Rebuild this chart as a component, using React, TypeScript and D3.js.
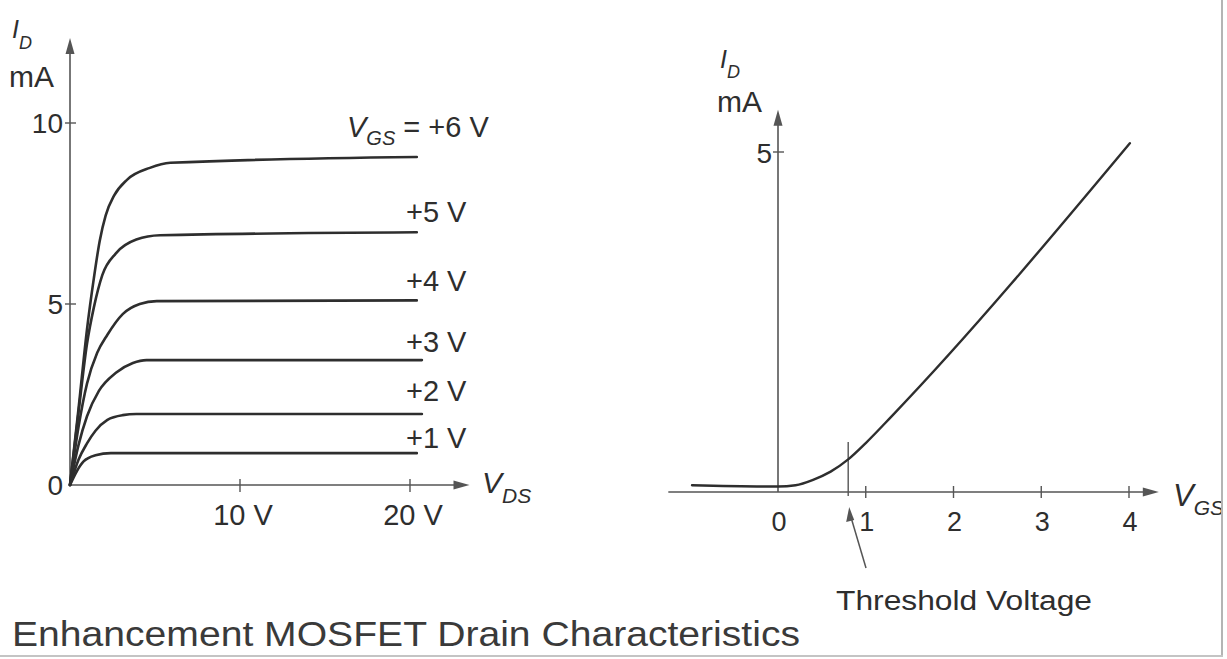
import React from 'react';
import * as d3 from 'd3';

// left panel: drain curves, I_D (mA) vs V_DS (V), one per gate voltage
const gateLabels = ['+6 V', '+5 V', '+4 V', '+3 V', '+2 V', '+1 V'];
const curve6: [number, number][] = [[0, 0], [0.5, 2.1], [1.0, 4.3], [1.4, 5.7], [1.75, 6.75], [2.1, 7.45], [2.6, 8.0], [3.35, 8.43], [4.7, 8.76], [5.9, 8.9], [20.4, 9.06]];
const curve5: [number, number][] = [[0, 0], [0.5, 2.0], [1.0, 3.9], [1.4, 4.9], [1.9, 5.8], [2.7, 6.4], [3.9, 6.78], [5.3, 6.9], [20.4, 6.98]];
const curve4: [number, number][] = [[0, 0], [0.5, 1.6], [1.0, 2.8], [1.6, 3.65], [2.2, 4.15], [3.1, 4.72], [4.1, 5.0], [5.1, 5.08], [20.4, 5.1]];
const curve3: [number, number][] = [[0, 0], [0.5, 1.1], [1.0, 1.9], [1.7, 2.6], [2.7, 3.1], [3.7, 3.37], [4.5, 3.45], [20.7, 3.45]];
const curve2: [number, number][] = [[0, 0], [0.5, 0.7], [1.0, 1.15], [1.5, 1.5], [2.2, 1.8], [3.1, 1.93], [3.9, 1.96], [20.7, 1.96]];
const curve1: [number, number][] = [[0, 0], [0.4, 0.38], [0.8, 0.65], [1.5, 0.82], [2.4, 0.88], [20.4, 0.88]];
const drainCurves = [curve6, curve5, curve4, curve3, curve2, curve1];
const drainYTicks = [0, 5, 10];
const drainXTicks = [10, 20];
const drainXTickLabels = ['10 V', '20 V'];

// right panel: transfer curve, I_D (mA) vs V_GS (V)
const transfer: [number, number][] = [[-0.98, 0.1], [0, 0.08], [0.2, 0.1], [0.4, 0.18], [0.6, 0.3], [0.8, 0.48], [1.0, 0.72], [1.3, 1.12], [4.01, 5.13]];
const transferXTicks = [0, 1, 2, 3, 4];
const transferYTicks = [5];
const thresholdV = 0.8;

const ink = '#2e2e2e';
const axisInk = '#555';
const font = '"Liberation Sans", Arial, Helvetica, sans-serif';

function arrow(x: number, y: number, dir: 'up' | 'right') {
  const len = 16, hw = 4.5;
  if (dir === 'up') return `M${x},${y} L${x - hw},${y + len} L${x + hw},${y + len} Z`;
  return `M${x},${y} L${x - len},${y - hw} L${x - len},${y + hw} Z`;
}

export default function App() {
  const W = 1227, H = 659;

  const xL = d3.scaleLinear().domain([0, 20]).range([70, 410]);
  const yL = d3.scaleLinear().domain([0, 10]).range([485, 123]);
  const xR = d3.scaleLinear().domain([0, 4]).range([778, 1129]);
  const yR = d3.scaleLinear().domain([0, 5]).range([492, 152]);

  const lineL = d3.line<[number, number]>().x(d => xL(d[0])).y(d => yL(d[1])).curve(d3.curveMonotoneX);
  const lineR = d3.line<[number, number]>().x(d => xR(d[0])).y(d => yR(d[1])).curve(d3.curveMonotoneX);

  const lAxisTop = yL(12.35), lAxisRight = xL(23.5);
  const rAxisTop = yR(5.62), rAxisRight = xR(4.34), rAxisLeft = xR(-1.25);

  const labelShift = [-20, -10, -9, -8, -13, -5];

  return (
    <svg width={W} height={H} style={{ position: 'absolute', left: 0, top: 0, background: '#fff' }}
      fontFamily={font}>
      <defs>
        <clipPath id="page"><rect x={0} y={0} width={1221} height={655} /></clipPath>
      </defs>
      <rect width={W} height={H} fill="#fff" />
      <g clipPath="url(#page)">
        {/* ---------- left panel ---------- */}
        <line x1={xL(0)} x2={xL(0)} y1={yL(0)} y2={lAxisTop + 14} stroke={axisInk} strokeWidth={1.6} />
        <path d={arrow(xL(0), lAxisTop, 'up')} fill={axisInk} />
        <line x1={xL(0)} x2={lAxisRight - 14} y1={yL(0)} y2={yL(0)} stroke={axisInk} strokeWidth={1.6} />
        <path d={arrow(lAxisRight, yL(0), 'right')} fill={axisInk} />
        {drainYTicks.filter(t => t > 0).map(t => (
          <line key={t} x1={xL(0) - 5} x2={xL(0) + 6} y1={yL(t)} y2={yL(t)} stroke={axisInk} strokeWidth={1.4} />
        ))}
        {drainXTicks.map(t => (
          <line key={t} x1={xL(t)} x2={xL(t)} y1={yL(0) - 6} y2={yL(0) + 7} stroke={axisInk} strokeWidth={1.4} />
        ))}
        {drainYTicks.map(t => (
          <text key={t} x={xL(0) - 7} y={yL(t) + 10} fontSize={28} fill={ink} textAnchor="end">{t}</text>
        ))}
        {drainXTicks.map((t, i) => (
          <text key={t} x={xL(t) + 3} y={yL(0) + 40} fontSize={29} fill={ink} textAnchor="middle">{drainXTickLabels[i]}</text>
        ))}
        {drainCurves.map((c, i) => (
          <path key={i} d={lineL(c) ?? ''} fill="none" stroke={ink} strokeWidth={2.6} strokeLinecap="round" />
        ))}
        {drainCurves.map((c, i) => {
          const end = c[c.length - 1];
          const y = yL(end[1]) + labelShift[i];
          if (i === 0) {
            return (
              <text key={i} x={347} y={y} fontSize={29} fill={ink}>
                <tspan fontStyle="italic">V</tspan>
                <tspan fontStyle="italic" fontSize={20} dy={8}>GS</tspan>
                <tspan dy={-8}> = {gateLabels[i]}</tspan>
              </text>
            );
          }
          return <text key={i} x={406} y={y} fontSize={29} fill={ink}>{gateLabels[i]}</text>;
        })}
        <text x={12} y={38} fontSize={25} fill={ink} fontStyle="italic">I
          <tspan fontSize={18} dy={11}>D</tspan>
        </text>
        <text x={9} y={87} fontSize={30} fill={ink}>mA</text>
        <text x={482} y={493} fontSize={30} fill={ink} fontStyle="italic">V
          <tspan fontSize={21} dy={10}>DS</tspan>
        </text>

        {/* ---------- right panel ---------- */}
        <line x1={xR(0)} x2={xR(0)} y1={yR(0)} y2={rAxisTop + 14} stroke={axisInk} strokeWidth={1.6} />
        <path d={arrow(xR(0), rAxisTop, 'up')} fill={axisInk} />
        <line x1={rAxisLeft} x2={rAxisRight - 14} y1={yR(0)} y2={yR(0)} stroke={axisInk} strokeWidth={1.6} />
        <path d={arrow(rAxisRight, yR(0), 'right')} fill={axisInk} />
        {transferYTicks.map(t => (
          <line key={t} x1={xR(0) - 5} x2={xR(0) + 6} y1={yR(t)} y2={yR(t)} stroke={axisInk} strokeWidth={1.4} />
        ))}
        {transferYTicks.map(t => (
          <text key={t} x={xR(0) - 6} y={yR(t) + 11} fontSize={28} fill={ink} textAnchor="end">{t}</text>
        ))}
        {transferXTicks.filter(t => t > 0).map(t => (
          <line key={t} x1={xR(t)} x2={xR(t)} y1={yR(0) - 6} y2={yR(0) + 6} stroke={axisInk} strokeWidth={1.4} />
        ))}
        {transferXTicks.map(t => (
          <text key={t} x={xR(t) + 1} y={yR(0) + 39} fontSize={27} fill={ink} textAnchor="middle">{t}</text>
        ))}
        <line x1={xR(thresholdV)} x2={xR(thresholdV)} y1={yR(0) - 50} y2={yR(0) + 4} stroke={axisInk} strokeWidth={1.4} />
        <path d={lineR(transfer) ?? ''} fill="none" stroke={ink} strokeWidth={2.4} strokeLinecap="round" />
        <text x={720} y={68} fontSize={25} fill={ink} fontStyle="italic">I
          <tspan fontSize={18} dy={10}>D</tspan>
        </text>
        <text x={717} y={112} fontSize={30} fill={ink}>mA</text>
        <text x={1173} y={506} fontSize={31} fill={ink} fontStyle="italic">V
          <tspan fontSize={21} dy={9}>GS</tspan>
        </text>
        {/* threshold pointer */}
        <line x1={866} y1={568} x2={xR(thresholdV) + 3} y2={yR(0) + 26} stroke={axisInk} strokeWidth={1.5} />
        <path d={`M${xR(thresholdV) + 1},${yR(0) + 15} L${xR(thresholdV) - 2},${yR(0) + 30} L${xR(thresholdV) + 6},${yR(0) + 28} Z`} fill={axisInk} />
        <text x={836} y={610} fontSize={27} fill={ink} textLength={256} lengthAdjust="spacingAndGlyphs">Threshold Voltage</text>

        {/* ---------- caption ---------- */}
        <text x={12} y={646} fontSize={35} fill="#3a3a3a" textLength={788} lengthAdjust="spacingAndGlyphs">Enhancement MOSFET Drain Characteristics</text>
      </g>
      <line x1={1222} x2={1222} y1={0} y2={657} stroke="#b4b4b4" strokeWidth={2} />
      <line x1={0} x2={1223} y1={656} y2={656} stroke="#c4c4c4" strokeWidth={2} />
    </svg>
  );
}
